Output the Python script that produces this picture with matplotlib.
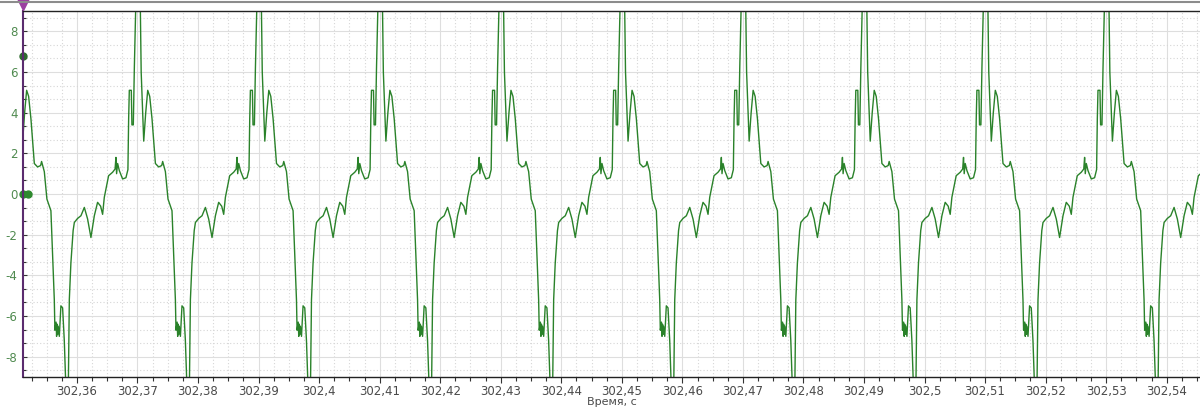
import matplotlib.pyplot as plt
import numpy as np
from matplotlib.ticker import FuncFormatter, MultipleLocator
from matplotlib.lines import Line2D

# peak times of each cycle (s)
peak_times = [302.3502, 302.3702, 302.3902, 302.4102, 302.4302, 302.4502,
              302.4702, 302.4902, 302.5102, 302.5302, 302.5502]

# one cycle of the waveform: offset from the peak (ms) and value
cycle_ms = [-0.33, 0.25, 0.41, 0.83, 1.16, 1.49, 1.82, 2.20, 2.76, 3.30,
            3.80, 3.96, 4.41, 4.84, 5.50, 5.78, 6.06, 6.16, 6.35, 6.44,
            6.52, 6.61, 6.70, 6.89, 7.15, 7.43, 7.71, 7.98, 8.37, 8.54,
            8.80, 9.17, 9.37, 9.91, 10.46, 11.02, 11.56, 12.11, 12.67, 13.21,
            13.71, 14.04, 14.32, 14.59, 15.03, 15.69, 16.10, 16.24, 16.35, 16.52,
            16.80, 17.34, 17.89, 18.22, 18.34, 18.45, 18.78, 18.88, 19.11, 19.28,
            19.54]
cycle_val = [9.6, 9.6, 6.0, 2.6, 4.0, 5.1, 4.8, 3.7, 1.5, 1.33,
             1.4, 1.6, 1.1, -0.25, -0.82, -3.05, -5.2, -6.7, -6.3, -7.0,
             -6.4, -6.9, -6.5, -7.0, -5.5, -5.6, -7.2, -9.6, -9.6, -5.2,
             -3.4, -1.8, -1.4, -1.2, -1.07, -0.66, -1.23, -2.14, -1.07, -0.41,
             -0.6, -1.0, -0.16, 0.25, 0.9, 1.07, 1.23, 1.8, 1.0, 1.5,
             1.15, 0.74, 0.8, 1.2, 3.7, 5.1, 5.1, 3.4, 3.4, 6.2,
             9.6]

x_major = [302.36, 302.37, 302.38, 302.39, 302.40, 302.41, 302.42, 302.43, 302.44,
           302.45, 302.46, 302.47, 302.48, 302.49, 302.50, 302.51, 302.52, 302.53, 302.54]
y_major = [-8, -6, -4, -2, 0, 2, 4, 6, 8]

t = np.concatenate([pt + np.array(cycle_ms) / 1000.0 for pt in peak_times])
v = np.tile(cycle_val, len(peak_times))

fig = plt.figure(figsize=(12, 4.07), dpi=100)
ax = fig.add_axes([23 / 1200, 30 / 407, 1177 / 1200, 366 / 407])

ax.plot(t, v, color='#2a822a', linewidth=1.0)

ax.set_xlim(302.35109, 302.5455)
ax.set_ylim(-9, 9)

ax.set_xticks(x_major)
ax.xaxis.set_minor_locator(MultipleLocator(0.0025))
ax.set_yticks(y_major)
ax.yaxis.set_minor_locator(MultipleLocator(2 / 3))

ax.xaxis.set_major_formatter(FuncFormatter(
    lambda x, p: f'{x:.2f}'.rstrip('0').rstrip('.').replace('.', ',')))
ax.yaxis.set_major_formatter(FuncFormatter(lambda y, p: f'{int(round(y))}'))

ax.grid(True, which='major', color='#dedede', linestyle='-', linewidth=0.8)
ax.grid(True, which='minor', color='#d6d6d6', linestyle=(0, (1, 2)), linewidth=0.8)
ax.set_axisbelow(True)

ax.tick_params(axis='x', which='major', direction='out', length=4, width=0.8,
               colors='#333333', labelsize=8.5, labelcolor='#4a4a4a', pad=2)
ax.tick_params(axis='x', which='minor', direction='out', length=3, width=0.8, colors='#333333')
ax.tick_params(axis='y', which='major', direction='in', length=3, width=0.8,
               colors='#333333', labelsize=8.5, labelcolor='#4f8a4f', pad=4)
ax.tick_params(axis='y', which='minor', direction='in', length=2, width=0.8, colors='#333333')

for side in ['top', 'bottom']:
    ax.spines[side].set_color('#222222')
    ax.spines[side].set_linewidth(1.0)
ax.spines['left'].set_color('#5b2c6f')
ax.spines['left'].set_linewidth(1.5)
ax.spines['right'].set_visible(False)

ax.set_xlabel('Время, с', fontsize=8, color='#4a4a4a', labelpad=-1)

# window border line above the plot
fig.add_artist(Line2D([0, 1], [1 - 2 / 407, 1 - 2 / 407], color='#8c8c8c', linewidth=1.5))

# cursor markers at the left edge
ax.plot([302.35109], [6.8], marker='o', color='#2e6b2e', markersize=5, clip_on=False)
ax.plot([302.35109, 302.3519], [0, 0], marker='o', linestyle='none',
        color='#2e8a2e', markersize=5, clip_on=False)
ax.plot([302.35109], [9.35], marker='v', color='#9b3fa0', markersize=8,
        clip_on=False, zorder=10)

fig.savefig('out.png', dpi=100)
